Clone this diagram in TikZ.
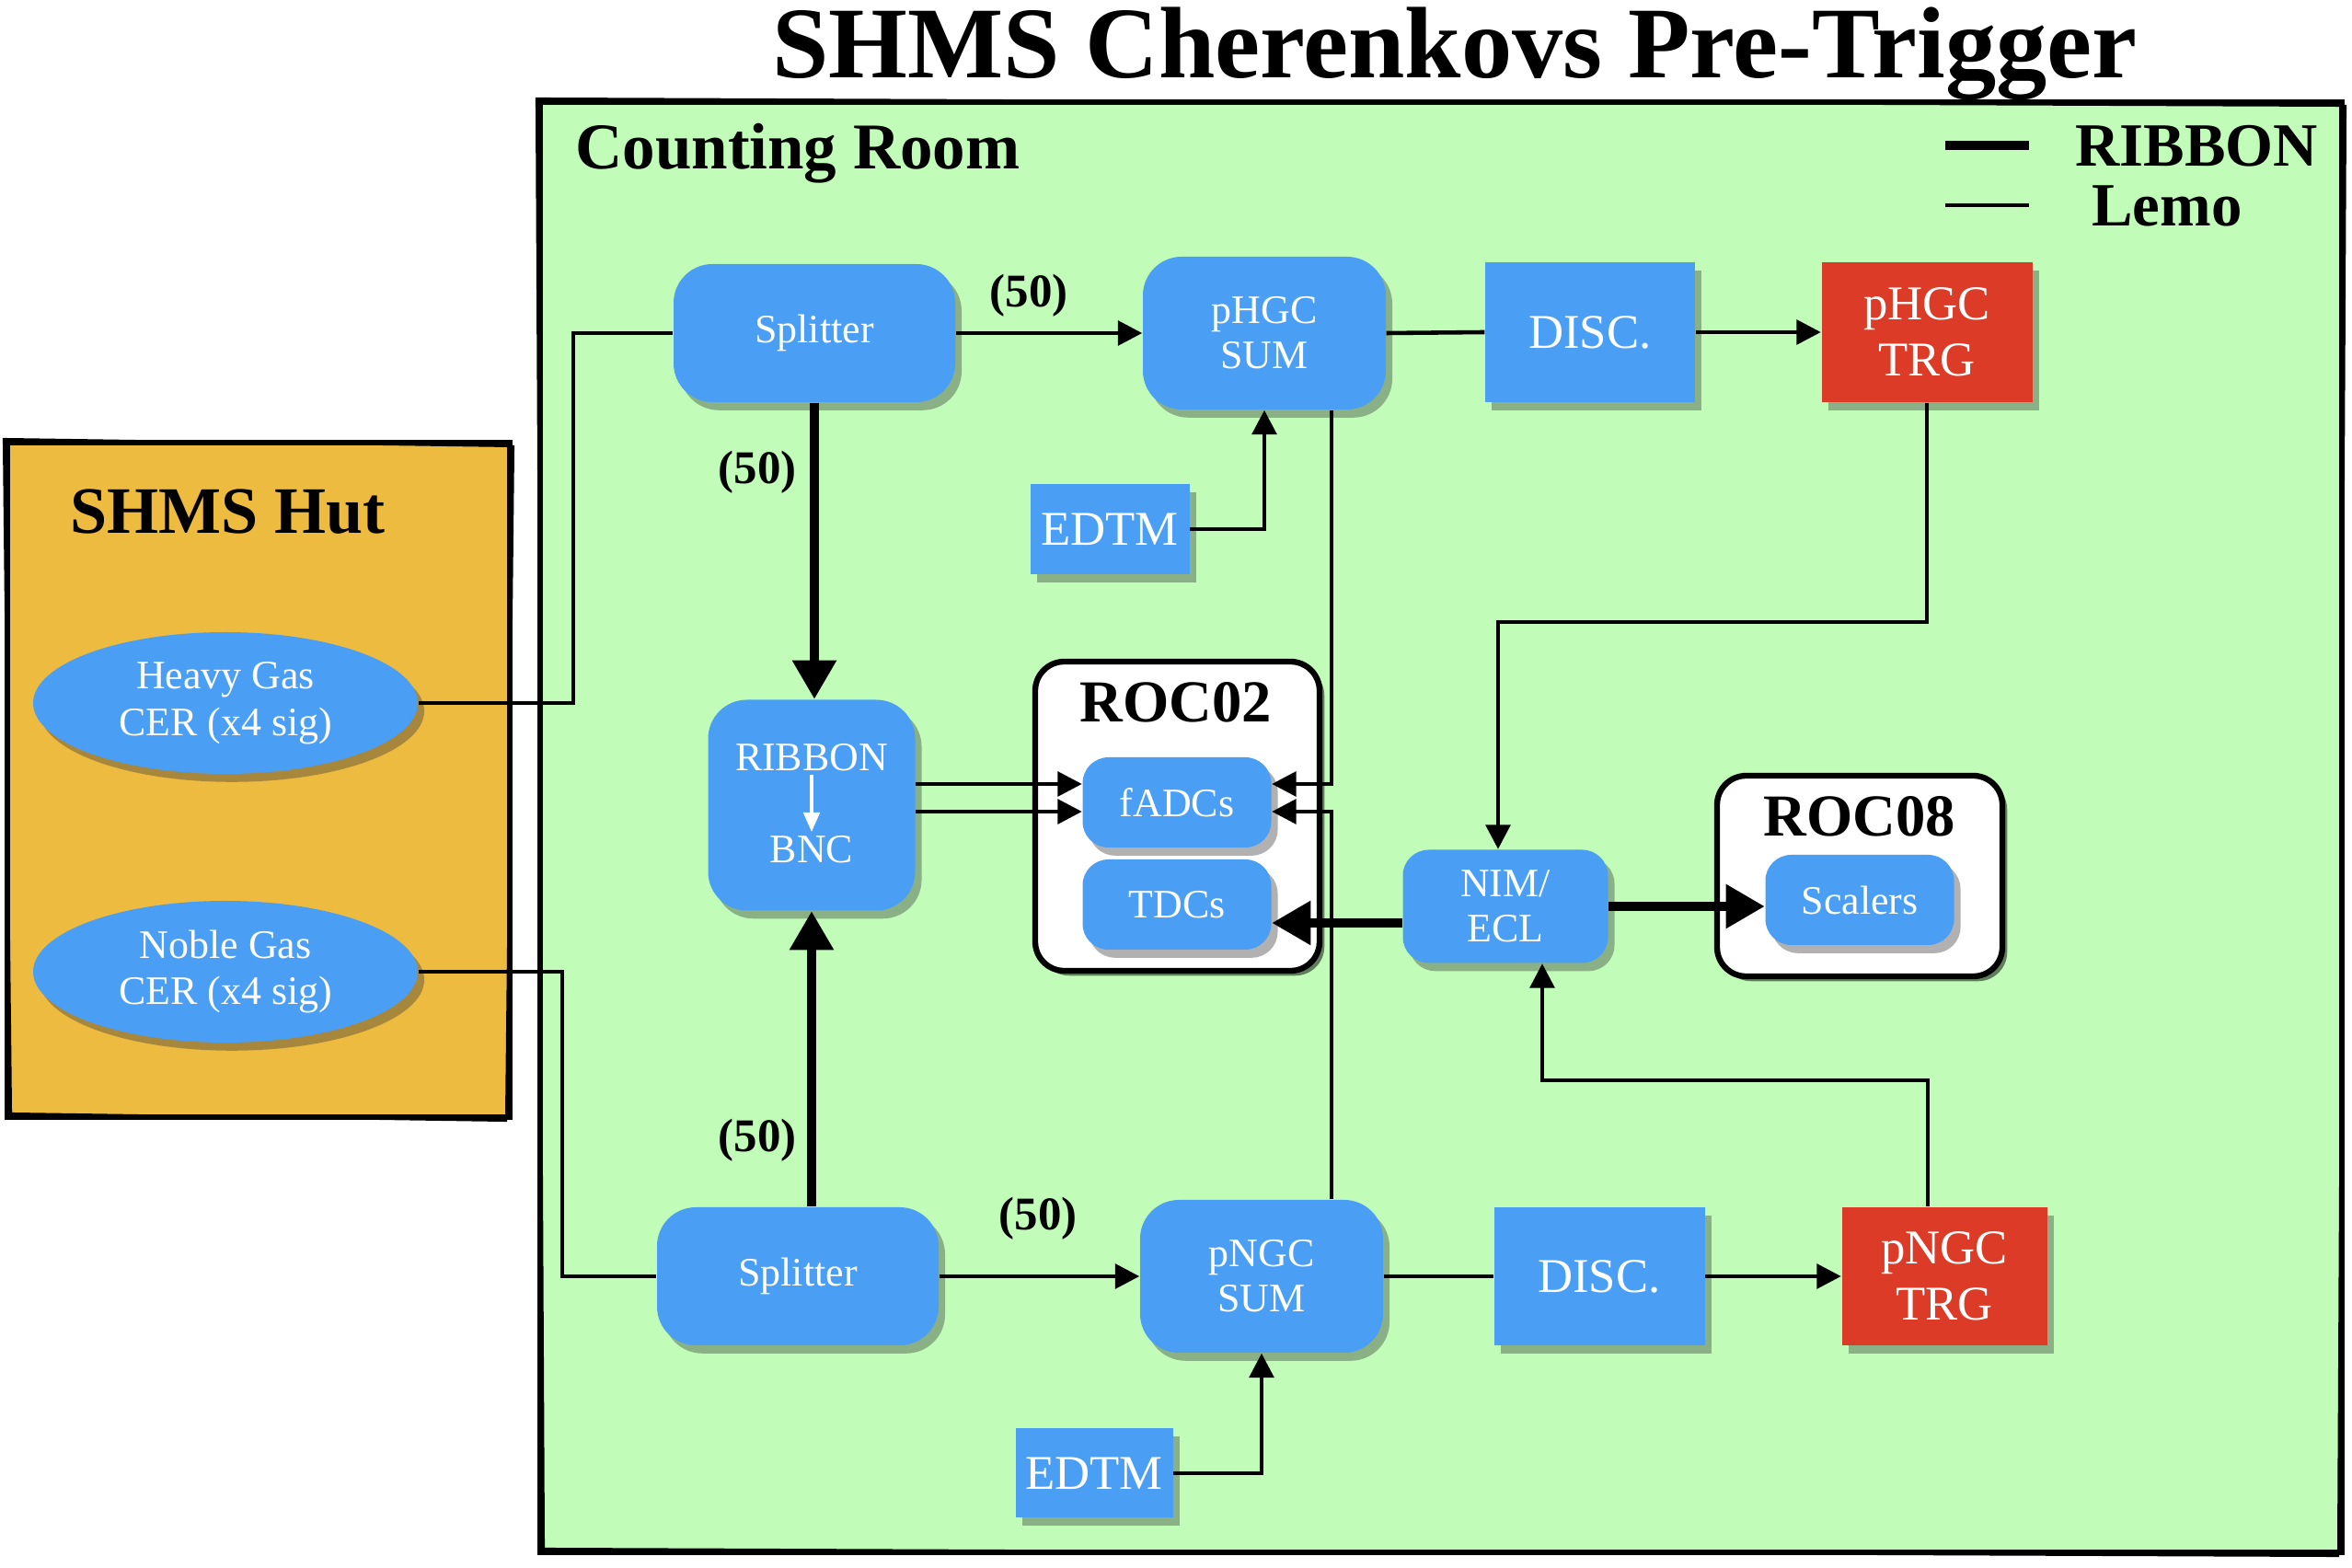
\documentclass[tikz,border=0pt]{standalone}
\usepackage{fontspec}
\setmainfont{Liberation Serif}
\usepackage{tikz}
\usetikzlibrary{arrows.meta}
\usetikzlibrary{shapes.geometric}
\usetikzlibrary{shadows}
\usepackage{xcolor}
\definecolor{ColRoom}{RGB}{193,253,185}
\definecolor{ColHut}{RGB}{237,187,64}
\definecolor{ColNode}{RGB}{74,159,245}
\definecolor{ColTrig}{RGB}{219,59,39}
\tikzstyle{Shadowed}=[drop shadow={shadow xshift=2pt,shadow yshift=-2.5pt,opacity=.38,fill=black!80}]
\tikzstyle{NodeRound}=[Shadowed,fill=ColNode,text=white,rounded corners=12pt,inner sep=0pt,
align=center,font=\fontsize{12.5}{14}\selectfont]
\tikzstyle{NodeSmall}=[NodeRound,rounded corners=8pt]
\tikzstyle{NodeSquare}=[Shadowed,fill=ColNode,text=white,inner sep=0pt,align=center,
font=\fontsize{15}{17.5}\selectfont]
\tikzstyle{NodeTrig}=[NodeSquare,fill=ColTrig]
\tikzstyle{NodeGas}=[Shadowed,ellipse,fill=ColNode,text=white,inner sep=0pt,align=center,
font=\fontsize{12.5}{14.5}\selectfont,minimum width=4.18cm,minimum height=1.54cm]
\tikzstyle{NodeRoc}=[draw,line width=1.8pt,rounded corners=9pt,fill=white,
drop shadow={shadow xshift=1.5pt,shadow yshift=-1.5pt,opacity=.5,fill=black}]
\tikzstyle{Frame}=[line width=1.8pt]
\tikzstyle{LabelBold}=[font=\bfseries\fontsize{14.5}{16}\selectfont]
\tikzstyle{EdgeLemo}=[line width=1.3pt,>={Triangle[length=7.5pt,width=7.5pt]}]
\tikzstyle{EdgeRibbon}=[line width=2.8pt,>={Triangle[length=12pt,width=13pt]}]

\begin{document}
\begin{tikzpicture}
    \useasboundingbox(0,0)rectangle(25.56,-17.04);
    % rooms
    \draw[Frame,fill=ColRoom](5.87,-1.11)rectangle(25.45,-16.87);
    \draw[line width=.6pt](5.83,-1.07)--(25.49,-1.15)--(25.41,-16.91)--(5.91,-16.83)--cycle;
    \draw[Frame,fill=ColHut](0.08,-4.81)rectangle(5.54,-12.14);
    \draw[line width=.6pt](0.04,-4.77)--(5.58,-4.85)--(5.50,-12.18)--(0.12,-12.10)--cycle;
    \node[font=\bfseries\fontsize{31.4}{36}\selectfont,anchor=base](title)at(15.81,-0.85){SHMS Cherenkovs Pre-Trigger};
    \node[font=\bfseries\fontsize{20.2}{24}\selectfont,anchor=base west](room)at(6.13,-1.84){Counting Room};
    \node[font=\bfseries\fontsize{20.5}{24}\selectfont,anchor=base west](hut)at(0.64,-5.80){SHMS Hut};
    % legend
    \node[font=\bfseries\fontsize{19}{22}\selectfont,anchor=base west](legR)at(22.43,-1.81){RIBBON};
    \node[font=\bfseries\fontsize{19}{22}\selectfont,anchor=base west](legL)at(22.61,-2.46){Lemo};
    \coordinate(legA)at(21.14,-1.58);
    \coordinate(legB)at(21.14,-2.23);
    \draw[EdgeRibbon](legA)--++(0.91,0);
    \draw[EdgeLemo](legB)--++(0.91,0);
    % read-out crates
    \node[NodeRoc,minimum width=3.09cm,minimum height=3.36cm](roc02)at(12.795,-8.87){};
    \node[NodeRoc,minimum width=3.10cm,minimum height=2.18cm](roc08)at(20.21,-9.52){};
    \node[font=\bfseries\fontsize{18.4}{22}\selectfont](roc02t)at(12.78,-7.63){ROC02};
    \node[font=\bfseries\fontsize{18.4}{22}\selectfont](roc08t)at(20.21,-8.87){ROC08};
    % nodes
    \node[NodeGas](hgc)at(2.45,-7.64){Heavy Gas\\CER (x4 sig)};
    \node[NodeGas](ngc)at(2.45,-10.56){Noble Gas\\CER (x4 sig)};
    \node[NodeRound,minimum width=3.06cm,minimum height=1.50cm](splA)at(8.85,-3.62){Splitter};
    \node[NodeRound,minimum width=2.64cm,minimum height=1.66cm](hsum)at(13.74,-3.62){pHGC\\SUM};
    \node[NodeSquare,minimum width=2.28cm,minimum height=1.52cm](discA)at(17.28,-3.61){DISC.};
    \node[NodeTrig,minimum width=2.29cm,minimum height=1.52cm](trgA)at(20.94,-3.61){pHGC\\TRG};
    \node[NodeSquare,minimum width=1.73cm,minimum height=0.98cm](edtmA)at(12.06,-5.75){EDTM};
    \node[NodeRound,minimum width=2.25cm,minimum height=2.29cm](rib)at(8.82,-8.75){};
    \node[text=white,font=\fontsize{12.5}{14}\selectfont,inner sep=0pt](ribA)at(8.82,-8.23){RIBBON};
    \node[text=white,font=\fontsize{12.5}{14}\selectfont,inner sep=0pt](ribB)at(8.82,-9.23){BNC};
    \node[NodeSmall,minimum width=2.05cm,minimum height=0.98cm](fadc)at(12.79,-8.72){fADCs};
    \node[NodeSmall,minimum width=2.05cm,minimum height=0.98cm](tdc)at(12.79,-9.83){TDCs};
    \node[NodeSmall,minimum width=2.23cm,minimum height=1.23cm](nim)at(16.36,-9.85){NIM/\\ECL};
    \node[NodeSmall,minimum width=2.05cm,minimum height=0.98cm](scal)at(20.21,-9.78){Scalers};
    \node[NodeRound,minimum width=3.06cm,minimum height=1.50cm](splB)at(8.67,-13.87){Splitter};
    \node[NodeRound,minimum width=2.64cm,minimum height=1.66cm](nsum)at(13.71,-13.87){pNGC\\SUM};
    \node[NodeSquare,minimum width=2.29cm,minimum height=1.50cm](discB)at(17.38,-13.87){DISC.};
    \node[NodeTrig,minimum width=2.23cm,minimum height=1.50cm](trgB)at(21.13,-13.87){pNGC\\TRG};
    \node[NodeSquare,minimum width=1.71cm,minimum height=0.97cm](edtmB)at(11.89,-16.01){EDTM};
    % cable labels
    \node[LabelBold](nA)at(11.18,-3.21){(50)};
    \node[LabelBold](nB)at(8.23,-5.13){(50)};
    \node[LabelBold](nC)at(8.23,-12.39){(50)};
    \node[LabelBold](nD)at(11.28,-13.24){(50)};
    % junctions
    \coordinate(jA)at(6.23,-7.64);
    \coordinate(jB)at(6.11,-10.56);
    \coordinate(bus)at(14.47,0);
    \coordinate(kA)at(16.28,-6.76);
    \coordinate(kB)at(16.76,-11.74);
    \coordinate(fL1)at([yshift=.2cm]fadc.west);
    \coordinate(fL2)at([yshift=-.1cm]fadc.west);
    \coordinate(fR1)at([yshift=.2cm]fadc.east);
    \coordinate(fR2)at([yshift=-.1cm]fadc.east);
    \coordinate(nT)at([yshift=-.18cm]nim.west);
    % connections
    \draw[EdgeLemo](hgc.east)--(jA)|-(splA.west);
    \draw[EdgeLemo](ngc.east)--(jB)|-(splB.west);
    \draw[EdgeLemo,->](splA.east)--(hsum.west);
    \draw[EdgeLemo,->](splB.east)--(nsum.west);
    \draw[EdgeRibbon,->](splA.south)--(splA.south|-rib.north);
    \draw[EdgeRibbon,->](rib.south|-splB.north)--(rib.south);
    \draw[white,line width=.9pt,-{Triangle[length=6pt,width=5pt]},shorten <=1pt,shorten >=1pt](ribA)--(ribB);
    \draw[EdgeLemo](hsum.east)--(discA.west);
    \draw[EdgeLemo,->](discA.east)--(trgA.west);
    \draw[EdgeLemo](nsum.east)--(discB.west);
    \draw[EdgeLemo,->](discB.east)--(trgB.west);
    \draw[EdgeLemo,->](edtmA.east)-|(hsum.south);
    \draw[EdgeLemo,->](edtmB.east)-|(nsum.south);
    \draw[EdgeLemo,->](rib.east|-fL1)--(fL1);
    \draw[EdgeLemo,->](rib.east|-fL2)--(fL2);
    \draw[EdgeLemo,->](bus|-hsum.south)|-(fR1);
    \draw[EdgeLemo,->](bus|-nsum.north)|-(fR2);
    \draw[EdgeLemo,->](trgA.south)|-(kA)--(kA|-nim.north);
    \draw[EdgeLemo,->]([xshift=-.18cm]trgB.north)|-(kB)--(kB|-nim.south);
    \draw[EdgeRibbon,->](nT)--(tdc.east|-nT);
    \draw[EdgeRibbon,->](nim.east)--(scal.west|-nim.east);
\end{tikzpicture}
\end{document}
